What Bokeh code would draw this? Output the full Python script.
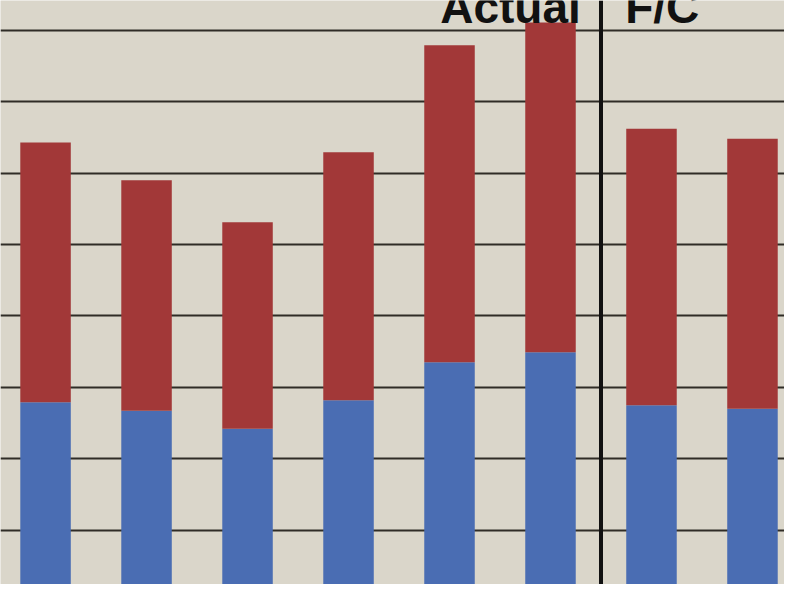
from bokeh.plotting import figure
from bokeh.models import Span, Range1d, SingleIntervalTicker, Label
from bokeh.embed import file_html
from bokeh.resources import INLINE

# Data (one grid step = 10 units)
periods = ["P1", "P2", "P3", "P4", "P5", "P6", "P7", "P8"]
blue_vals = [27.9, 26.7, 24.2, 28.2, 33.5, 34.9, 27.5, 27.0]
red_vals = [36.4, 32.3, 28.9, 34.7, 44.4, 46.2, 38.7, 37.8]
section_labels = ["Actual", "F/C"]

xs = list(range(len(periods)))

p = figure(width=784, height=584, output_backend="svg", toolbar_location=None,
           x_range=Range1d(-0.446, 7.317), y_range=Range1d(2.38, 84.17),
           min_border=0, min_border_left=0, min_border_right=0,
           min_border_top=0, min_border_bottom=0)
p.xaxis.visible = False
p.yaxis.visible = False
p.xgrid.visible = False
p.outline_line_color = None
p.background_fill_color = "#dad6ca"
p.border_fill_color = "#dad6ca"

p.yaxis.ticker = SingleIntervalTicker(interval=10)
p.ygrid.ticker = SingleIntervalTicker(interval=10)
p.ygrid.grid_line_color = "#2f2c26"
p.ygrid.grid_line_width = 2
p.ygrid.grid_line_alpha = 1.0

src = dict(x=xs, blue=blue_vals, red=red_vals)
p.vbar_stack(["blue", "red"], x="x", width=0.5, source=src,
             color=["#4a6db3", "#a23838"], line_color=None)

p.add_layout(Span(location=5.5, dimension="height", line_color="#111111", line_width=4))

p.add_layout(Label(x=5.30, y=83.2, text=section_labels[0], text_align="right",
                   text_baseline="alphabetic", text_font_size="46px",
                   text_font_style="bold", text_color="#111111", text_font="Liberation Sans"))
p.add_layout(Label(x=5.74, y=83.2, text=section_labels[1], text_align="left",
                   text_baseline="alphabetic", text_font_size="46px",
                   text_font_style="bold", text_color="#111111", text_font="Liberation Sans"))

open("out.html", "w").write(file_html(p, INLINE))
